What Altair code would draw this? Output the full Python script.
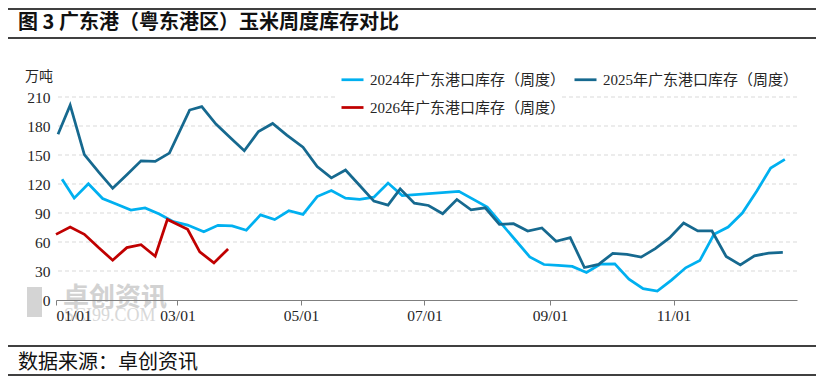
import altair as alt
import pandas as pd

S24 = "2024年广东港口库存（周度）"
S25 = "2025年广东港口库存（周度）"
S26 = "2026年广东港口库存（周度）"

d2024 = ["01/04", "01/10", "01/17", "01/24", "01/31", "02/07", "02/14", "02/21", "02/28",
         "03/06", "03/14", "03/21", "03/28", "04/04", "04/11", "04/18", "04/25",
         "05/02", "05/09", "05/16", "05/23", "05/30", "06/06", "06/13", "06/20",
         "07/18", "08/01", "08/08", "08/15", "08/22", "08/29", "09/05", "09/12", "09/19", "09/26",
         "10/03", "10/10", "10/17", "10/24", "10/31", "11/07", "11/14", "11/21", "11/28",
         "12/05", "12/12", "12/19", "12/26"]
v2024 = [125, 105.4, 120.3, 105, 99, 93, 95.2, 89, 81,
         77.5, 70.5, 77.3, 76.7, 72.2, 88, 83.2, 92.3,
         88.5, 107, 113.2, 105.4, 104.2, 106.4, 121, 108,
         112.4, 96.2, 78.9, 61.8, 44.6, 36.7, 35.7, 34.7, 28.5, 37.1,
         37.4, 21.6, 11.7, 9.3, 20.6, 33.3, 40.8, 67.9, 75.5,
         89.9, 112.2, 136.6, 145.5]

d2025 = ["01/02", "01/08", "01/15", "01/22", "01/29", "02/05", "02/12", "02/19", "02/26",
         "03/07", "03/13", "03/20", "03/27", "04/03", "04/10", "04/17", "04/24",
         "05/02", "05/09", "05/16", "05/23", "05/30", "06/06", "06/13", "06/19", "06/26",
         "07/03", "07/10", "07/17", "07/24", "07/31", "08/07", "08/14", "08/21", "08/28",
         "09/04", "09/11", "09/18", "09/25", "10/02", "10/09", "10/16", "10/23", "10/30",
         "11/06", "11/13", "11/20", "11/27", "12/04", "12/11", "12/18", "12/25"]
v2025 = [171.5, 201.5, 150.5, 132.5, 115.5, 129.5, 144, 143.3, 152,
         196.5, 200, 182, 168, 154.4, 174.3, 182.6, 170.6,
         158, 138, 126.3, 134.5, 118.5, 102.3, 98.1, 115, 100.2,
         97.8, 89.2, 104, 93.3, 95.4, 78.2, 78.9, 71.4, 74.5,
         60.7, 64.5, 33.6, 36.8, 48.2, 47.2, 44.4, 53.2, 64.2,
         79.7, 71.4, 71.4, 45, 36.3, 45.7, 48.5, 49.2]

d2026 = ["01/01", "01/08", "01/15", "01/22", "01/29", "02/05", "02/12", "02/19", "02/25",
         "03/06", "03/12", "03/19", "03/26"]
v2026 = [67.9, 75.5, 67.9, 54.2, 41.2, 54.2, 57.3, 45.3, 83.3,
         73.1, 49.8, 38.4, 52.8]

series_names = [S24, S25, S26]
series_colors = ["#00b0f0", "#16698f", "#c00000"]
y_ticks = [0, 30, 60, 90, 120, 150, 180, 210]
x_tick_months = [1, 3, 5, 7, 9, 11]

rows = []
for name, ds, vs in [(S24, d2024, v2024), (S25, d2025, v2025), (S26, d2026, v2026)]:
    for d, v in zip(ds, vs):
        rows.append({"series": name, "date": "2024/" + d, "value": v})
df = pd.DataFrame(rows)

SERIF = "Liberation Serif, Noto Sans CJK SC"
CJK = "Noto Sans CJK SC"

yscale = alt.Scale(domain=[0, 210], nice=False)
yaxis = alt.Axis(values=y_ticks, title=None, domain=False, ticks=False, grid=False,
                 labelFont=SERIF, labelFontSize=15.5, labelColor="#262626",
                 labelPadding=6, zindex=1)

grid = alt.Chart(pd.DataFrame({"value": y_ticks[1:]})).mark_rule(
    color="#d9d9d9", strokeDash=[4, 3], strokeWidth=1).encode(
    y=alt.Y("value:Q", scale=yscale, axis=yaxis))

lines = alt.Chart(df).mark_line(strokeWidth=2.75).encode(
    x=alt.X("date:T",
            scale=alt.Scale(domain=[alt.DateTime(year=2024, month=1, date=1),
                                    alt.DateTime(year=2025, month=1, date=1)]),
            axis=alt.Axis(values=[alt.DateTime(year=2024, month=m, date=1) for m in x_tick_months],
                          format="%m/%d", title=None, grid=False,
                          domainColor="#7f7f7f", domainWidth=1,
                          tickColor="#7f7f7f", tickSize=5,
                          labelFont=SERIF, labelFontSize=15.5, labelColor="#262626",
                          labelPadding=3, zindex=1)),
    y=alt.Y("value:Q", scale=yscale, axis=yaxis),
    color=alt.Color("series:N",
                    scale=alt.Scale(domain=series_names, range=series_colors),
                    legend=alt.Legend(orient="none", legendX=284, legendY=-30, columns=2,
                                      direction="horizontal",
                                      symbolType="stroke", symbolStrokeWidth=2.75, symbolSize=484,
                                      labelFont=SERIF, labelFontSize=15, labelColor="#262626",
                                      labelOffset=5, columnPadding=3, rowPadding=7,
                                      title=None, padding=0, labelLimit=400)),
)

one = pd.DataFrame({"a": [0]})

cover = alt.Chart(one).mark_rect(color="white").encode(
    x=alt.value(280), x2=alt.value(503), y=alt.value(-9), y2=alt.value(9))

rule_top = alt.Chart(one).mark_rule(color="black", strokeWidth=1.5).encode(
    x=alt.value(-50), x2=alt.value(762), y=alt.value(-88))
rule_title = alt.Chart(one).mark_rule(color="black", strokeWidth=1.5).encode(
    x=alt.value(-50), x2=alt.value(762), y=alt.value(-59))
rule_src = alt.Chart(one).mark_rule(color="black", strokeWidth=1.5).encode(
    x=alt.value(-50), x2=alt.value(762), y=alt.value(249))
rule_bot = alt.Chart(one).mark_rule(color="black", strokeWidth=1.5).encode(
    x=alt.value(-50), x2=alt.value(762), y=alt.value(278))

title = alt.Chart(one).mark_text(text="图 3 广东港（粤东港区）玉米周度库存对比", align="left",
                                 baseline="middle", font=CJK, fontSize=20, fontWeight="bold",
                                 color="#111111").encode(x=alt.value(-38), y=alt.value(-74))
source = alt.Chart(one).mark_text(text="数据来源：卓创资讯", align="left", baseline="middle",
                                  font=CJK, fontSize=20, color="#111111").encode(
    x=alt.value(-38), y=alt.value(266))
unit = alt.Chart(one).mark_text(text="万吨", align="left", baseline="middle",
                                font=CJK, fontSize=14, color="#262626").encode(
    x=alt.value(-31), y=alt.value(-20))

logo = alt.Chart(one).mark_rect(color="#d4d4d4").encode(
    x=alt.value(-29), x2=alt.value(-14), y=alt.value(190), y2=alt.value(220))
wm1 = alt.Chart(one).mark_text(text="卓创资讯", align="left", baseline="middle", font=CJK,
                               fontSize=26, fontWeight="bold", color="#c8c8c8", opacity=0.8).encode(
    x=alt.value(7), y=alt.value(201))
wm2 = alt.Chart(one).mark_text(text="SCI99.COM", align="left", baseline="middle",
                               font="Liberation Serif", fontSize=18, color="#cfcfcf", opacity=0.8).encode(
    x=alt.value(8), y=alt.value(219))

chart = alt.layer(
    grid, logo, wm1, wm2, lines, cover, rule_top, rule_title, rule_src, rule_bot, title, source, unit
).properties(
    width=741, height=203,
    autosize=alt.AutoSizeParams(type="none"),
    padding={"left": 48, "top": 89, "right": 19, "bottom": 77},
).configure_view(stroke=None)

chart.save("out.html", embed_options={"renderer": "svg", "actions": False})
